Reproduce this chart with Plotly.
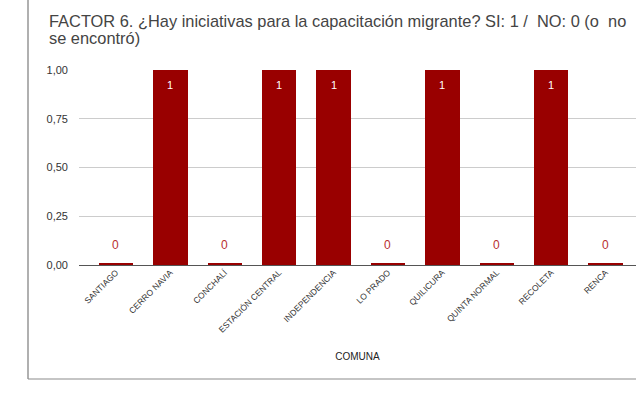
import plotly.graph_objects as go

categories = ["SANTIAGO", "CERRO NAVIA", "CONCHALÍ", "ESTACIÓN CENTRAL", "INDEPENDENCIA",
              "LO PRADO", "QUILICURA", "QUINTA NORMAL", "RECOLETA", "RENCA"]
values = [0, 1, 0, 1, 1, 0, 1, 0, 1, 0]
y_tick_vals = [0, 0.25, 0.5, 0.75, 1.0]
y_tick_text = ["0,00", "0,25", "0,50", "0,75", "1,00"]
title_lines = ["FACTOR 6. ¿Hay iniciativas para la capacitación migrante? SI: 1 /  NO: 0 (o  no",
               "se encontró)"]

BAR = "#990000"
FONT = "Liberation Sans, Arial, sans-serif"
W, H = 636, 394
# plot area in page pixels: x 79..636, y 70..265
L, R, T, B = 79, 0, 70, H - 265
pw, ph = W - L - R, H - T - B

x_idx = list(range(len(categories)))
fig = go.Figure()
fig.add_trace(go.Bar(x=x_idx, y=values, marker_color=BAR, width=0.634,
                     marker_line_width=0, hoverinfo="x+y"))
# thin stub so zero-valued bars remain visible, as in the source chart
fig.add_trace(go.Bar(x=x_idx, y=[0.009 if v == 0 else 0 for v in values],
                     marker_color=BAR, width=0.634, marker_line_width=0, hoverinfo="skip"))

for i, v in enumerate(values):
    if v > 0:
        fig.add_annotation(x=i, y=v, text=str(v), showarrow=False, yanchor="top", yshift=-7,
                           font=dict(color="white", size=11, family=FONT))
    else:
        fig.add_annotation(x=i, y=v, text=str(v), showarrow=False, yanchor="bottom", yshift=11,
                           font=dict(color="#b83030", size=12, family=FONT))

def px(x):
    return (x - L) / pw
def py(y):
    return (H - B - y) / ph

fig.add_shape(type="line", xref="paper", yref="paper", x0=px(28), x1=px(28), y0=py(-20), y1=py(379),
              line=dict(color="#b0b0b0", width=2))
fig.add_shape(type="line", xref="paper", yref="paper", x0=px(28), x1=px(660), y0=py(379), y1=py(379),
              line=dict(color="#8c8c8c", width=1.2))

for line, cy in zip(title_lines, [20.5, 38.5]):
    fig.add_annotation(xref="paper", yref="paper", x=px(48), y=py(cy), xanchor="left", yanchor="middle",
                       align="left", showarrow=False, text=line, borderpad=0,
                       font=dict(size=16.4, color="#444444", family=FONT))

fig.update_layout(
    width=W, height=H, margin=dict(l=L, r=R, t=T, b=B),
    paper_bgcolor="white", plot_bgcolor="white", showlegend=False,
    barmode="overlay", bargap=0,
    font=dict(family=FONT, color="#333333"),
)
fig.update_xaxes(range=[-0.68, 9.56], tickvals=x_idx, ticktext=categories, tickangle=-45,
                 tickfont=dict(size=8.5, color="#333333"), showgrid=False, showline=False,
                 ticks="", title=dict(text="COMUNA", font=dict(size=10, color="#222222"), standoff=19))
fig.update_yaxes(range=[0, 1.0], tickvals=y_tick_vals, ticktext=y_tick_text,
                 tickfont=dict(size=11, color="#333333"), showgrid=True, gridcolor="#cccccc",
                 zeroline=True, zerolinecolor="#555555", zerolinewidth=1.2, showline=False,
                 ticks="", ticklabelstandoff=10)

fig.write_html("out.html", config={"displayModeBar": False},
               post_script="document.body.style.margin='0';document.body.style.overflow='hidden';")
